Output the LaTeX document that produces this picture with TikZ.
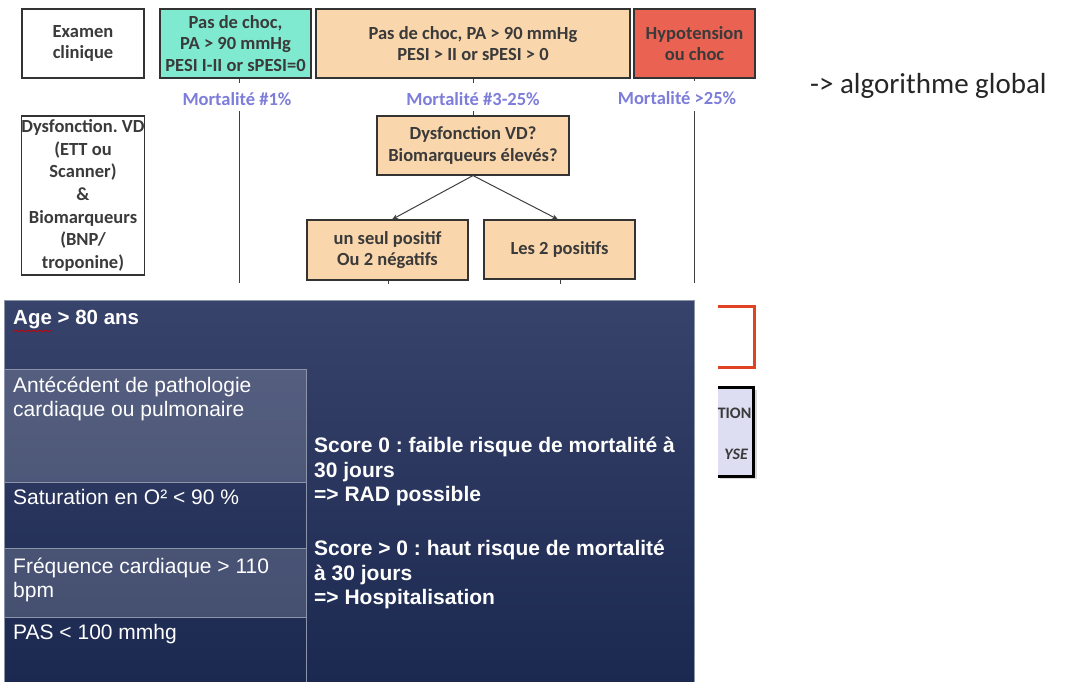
\documentclass[tikz,border=0pt]{standalone}
\usepackage{fontspec}
\setmainfont{Carlito}
\newfontfamily\arialf{Liberation Sans}
\usetikzlibrary{arrows.meta,decorations.pathmorphing}
\definecolor{tealbox}{RGB}{128,234,208}
\definecolor{orangebox}{RGB}{250,214,172}
\definecolor{redbox}{RGB}{233,98,82}
\definecolor{mortc}{RGB}{125,125,218}
\definecolor{txtc}{RGB}{58,58,58}
\definecolor{paneltop}{RGB}{56,67,107}
\definecolor{panelbot}{RGB}{27,40,80}
\definecolor{cellline}{RGB}{140,148,170}
\definecolor{redline}{RGB}{226,66,36}
\definecolor{lavbox}{RGB}{222,222,242}
\frenchspacing
\tikzset{
  flowbox/.style={draw=black!80, line width=1.1pt, align=center, inner sep=0pt,
    font=\bfseries\fontsize{18.5}{21.5}\selectfont, text=txtc},
  mort/.style={font=\bfseries\fontsize{18.5}{20}\selectfont, text=mortc, inner sep=0pt},
  conn/.style={draw=black!75, line width=1pt},
  arr/.style={conn, -{Stealth[length=6pt,width=5pt]}},
  celltxt/.style={anchor=north west, align=left, inner sep=0pt, text=white,
    font=\arialf\fontsize{21}{24}\selectfont},
  scoretxt/.style={anchor=north west, align=left, inner sep=0pt, text=white,
    font=\arialf\bfseries\fontsize{21}{24.5}\selectfont},
  cellbox/.style={draw=cellline, line width=0.6pt}
}
\begin{document}
\begin{tikzpicture}[x=1pt,y=-1pt]
\useasboundingbox (0,0) rectangle (1074,682);
\fill[white] (0,0) rectangle (1074,682);

% ---------- top flowchart ----------
\node[flowbox, minimum width=122pt, minimum height=69pt] (exam) at (83,43.5) {Examen\\clinique};
\node[flowbox, fill=tealbox, minimum width=151pt, minimum height=69pt] (teal) at (235.5,43.5) {Pas de choc,\\PA > 90 mmHg\\PESI I-II or sPESI=0};
\node[flowbox, fill=orangebox, minimum width=314pt, minimum height=69pt] (orng) at (473,43.5) {Pas de choc, PA > 90 mmHg\\PESI > II or sPESI > 0};
\node[flowbox, fill=redbox, minimum width=121pt, minimum height=69pt] (redb) at (694.5,43.5) {Hypotension\\ou choc};

\node[mort] (m1) at (237,99) {Mortalité \#1\%};
\node[mort] (m2) at (473,99) {Mortalité \#3-25\%};
\node[mort] (m3) at (677,98) {Mortalité >25\%};

\node[flowbox, minimum width=122pt, minimum height=159pt, font=\bfseries\fontsize{18.5}{22.7}\selectfont] (dysl) at (83,195.5) {Dysfonction. VD\\(ETT ou\\Scanner)\\\&\\Biomarqueurs\\(BNP/\\troponine)};

\node[flowbox, fill=orangebox, minimum width=192pt, minimum height=59pt] (dvd) at (473,145.5) {Dysfonction VD?\\Biomarqueurs élevés?};
\node[flowbox, fill=orangebox, minimum width=161pt, minimum height=60pt] (seul) at (387.5,250) {un seul positif\\Ou 2 négatifs};
\node[flowbox, fill=orangebox, minimum width=151pt, minimum height=59pt] (les2) at (559.5,249.5) {Les 2 positifs};

% ticks and lines
\coordinate (t1) at (239,83);
\coordinate (l1a) at (239,111);
\coordinate (l1b) at (239,283);
\coordinate (t2) at (473,83);
\coordinate (l2a) at (473,111);
\coordinate (t3) at (694,81);
\coordinate (l3a) at (694,111);
\coordinate (l3b) at (694,283);
\coordinate (s1) at (388,284);
\coordinate (s2) at (560,284);

\draw[conn] (teal.south -| t1) -- (t1);
\draw[conn] (l1a) -- (l1b);
\draw[conn] (orng.south) -- (t2);
\draw[conn] (l2a) -- (dvd.north);
\draw[conn] (redb.south -| t3) -- (t3);
\draw[conn] (l3a) -- (l3b);
\draw[arr] (dvd.south) -- (seul.north -| 392,0);
\draw[arr] (dvd.south) -- (les2.north -| 558,0);
\draw[conn] (seul.south -| s1) -- (s1);
\draw[conn] (les2.south -| s2) -- (s2);

% ---------- right text ----------
\node[anchor=west, inner sep=0pt, font=\fontsize{29}{33}\selectfont, text=black!85] (algo) at (810,86) {-> algorithme global};

% ---------- dark panel ----------
\shade[top color=paneltop, bottom color=panelbot] (4,300) rectangle (694,682);
\draw[cellline, line width=0.8pt] (4,682) -- (4,300) -- (694,300) -- (694,682);
\fill[white, fill opacity=0.17] (4,369) rectangle (306,482);
\fill[white, fill opacity=0.17] (4,548) rectangle (306,617);
\draw[cellbox] (4,369) rectangle (306,482);
\draw[cellbox] (4,482) rectangle (306,548);
\draw[cellbox] (4,548) rectangle (306,617);
\draw[cellbox] (4,617) -- (306,617) -- (306,682);

\node[anchor=north west, inner sep=0pt, text=white, font=\arialf\bfseries\fontsize{20.5}{24}\selectfont] (age) at (13,310) {Age > 80 ans};
\draw[red!80!black, line width=0.6pt, decorate, decoration={snake, amplitude=0.8pt, segment length=3pt}] (13,331) -- (52,331);

\node[celltxt] (c1) at (13,377) {Antécédent de pathologie\\cardiaque ou pulmonaire};
\node[celltxt] (c2) at (13,489) {Saturation en O² < 90 \%};
\node[celltxt] (c3) at (13,558) {Fréquence cardiaque > 110\\bpm};
\node[celltxt] (c4) at (13,624) {PAS < 100 mmhg};

\node[scoretxt] (sc1) at (314,437) {Score 0 : faible risque de mortalité à\\30 jours\\=> RAD possible};
\node[scoretxt] (sc2) at (314,540) {Score > 0 : haut risque de mortalité\\à 30 jours\\=> Hospitalisation};

% ---------- cropped boxes at right ----------
\draw[redline, line width=3pt] (718,306) -- (754,306) -- (754,367) -- (718,367);
\fill[black!15] (720,390) rectangle (757,479);
\fill[lavbox] (718,387) rectangle (753,476);
\begin{scope}
\clip (717,387) rectangle (752,476);
\node[anchor=east, inner sep=0pt, font=\bfseries\fontsize{16}{18}\selectfont, text=txtc] (tion) at (751.5,413) {TION};
\node[anchor=east, inner sep=0pt, font=\bfseries\itshape\fontsize{16}{18}\selectfont, text=txtc] (yse) at (748,454) {YSE};
\end{scope}
\draw[black, line width=3pt] (718,387) -- (753,387) -- (753,476) -- (718,476);
\end{tikzpicture}
\end{document}
